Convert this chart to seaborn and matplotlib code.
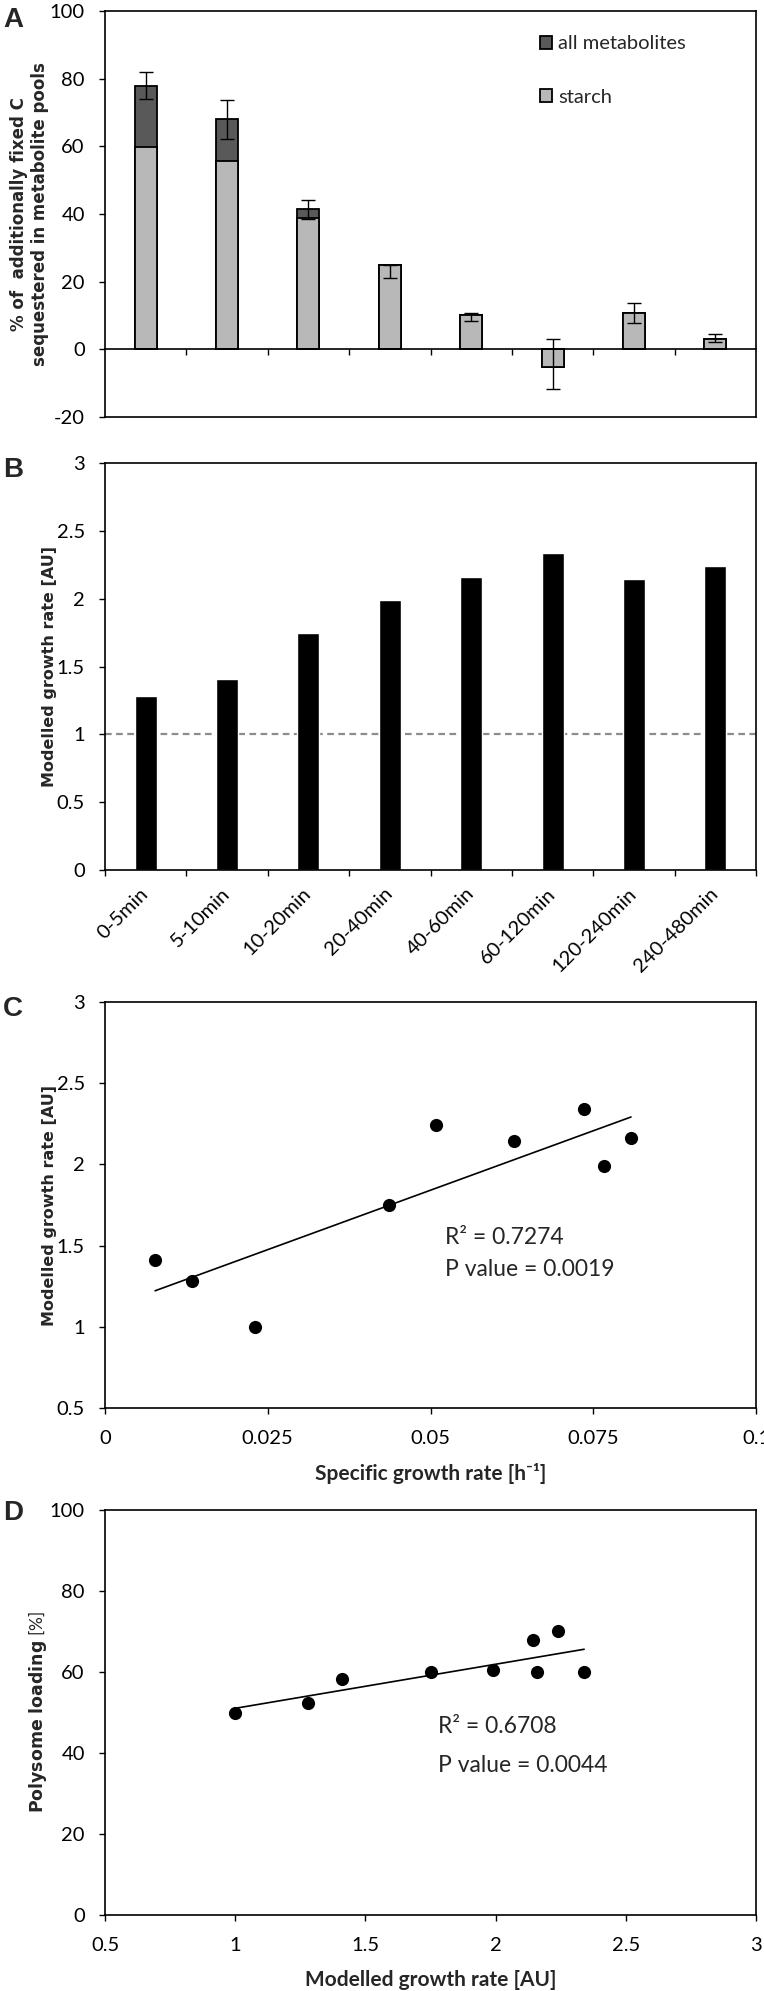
import matplotlib.pyplot as plt
import numpy as np
import seaborn as sns
from matplotlib.patches import Patch
from matplotlib.ticker import FuncFormatter, MultipleLocator

# ---- data ----
intervals = ["0-5min", "5-10min", "10-20min", "20-40min",
             "40-60min", "60-120min", "120-240min", "240-480min"]

# A: % of additionally fixed C sequestered in metabolite pools
all_metabolites = [77.9, 68.0, 41.4, 24.9, 10.1, -5.1, 10.6, 3.1]
starch = [59.9, 55.7, 38.9, 24.9, 10.1, -5.1, 10.6, 3.1]
err_low = [4.0, 5.9, 2.9, 3.9, 1.7, 6.7, 2.7, 1.0]
err_high = [4.2, 5.7, 2.6, 0.0, 0.7, 8.1, 3.0, 1.3]

# B-D: per interval
modelled_growth = [1.28, 1.41, 1.75, 1.99, 2.16, 2.34, 2.145, 2.24]
specific_growth = [0.0134, 0.0077, 0.0437, 0.0766, 0.0808, 0.0736, 0.0629, 0.0509]
polysome = [52.3, 58.2, 60.0, 60.5, 60.0, 60.0, 67.8, 70.1]

# control point
control_growth = 1.0
control_specific = 0.023
control_polysome = 50.0

stats_c = ("0.7274", "0.0019")
stats_d = ("0.6708", "0.0044")

dark_grey = "#595959"
light_grey = "#b8b8b8"

# ---- style ----
sns.set_theme(style="ticks", rc={
    "axes.edgecolor": "black",
    "axes.linewidth": 1.2,
    "xtick.color": "black",
    "ytick.color": "black",
    "xtick.major.width": 1.0,
    "ytick.major.width": 1.0,
    "xtick.major.size": 4.5,
    "ytick.major.size": 4.5,
    "xtick.labelsize": 14.5,
    "ytick.labelsize": 14.5,
    "xtick.major.pad": 11,
    "ytick.major.pad": 10,
})
plt.rcParams["font.family"] = ["Lato", "DejaVu Sans"]
plt.rcParams["mathtext.fontset"] = "dejavusans"

W, H = 764, 1991
fig = plt.figure(figsize=(W / 100, H / 100), dpi=100)


def box(top, bottom):
    return [105 / W, 1 - bottom / H, 651 / W, (bottom - top) / H]


axA = fig.add_axes(box(11, 417))
axB = fig.add_axes(box(463, 870))
axC = fig.add_axes(box(1002, 1408))
axD = fig.add_axes(box(1510, 1915))

fmt = FuncFormatter(lambda v, p: "%g" % v)
ylab_kw = dict(fontfamily="DejaVu Sans", fontweight="bold", fontsize=11.5)
pos = np.arange(len(intervals))

# ---- A ----
sns.barplot(x=intervals, y=all_metabolites, color=dark_grey, width=0.27,
            edgecolor="black", linewidth=1.3, saturation=1, errorbar=None, ax=axA)
sns.barplot(x=intervals, y=starch, color=light_grey, width=0.27,
            edgecolor="black", linewidth=1.3, saturation=1, errorbar=None, ax=axA)
axA.errorbar(pos, all_metabolites, yerr=[err_low, err_high], fmt="none",
             ecolor="black", elinewidth=1, capsize=5, capthick=1, zorder=5)
axA.set_xlim(-0.5, len(intervals) - 0.5)
axA.set_ylim(-20, 100)
axA.yaxis.set_major_locator(MultipleLocator(20))
axA.yaxis.set_major_formatter(fmt)
axA.spines["bottom"].set_position(("data", 0))
axA.set_xticks(pos[1:] - 0.5)
axA.set_xticklabels([])
axA.plot([0, 1], [0, 0], transform=axA.transAxes, color="black", lw=1.2, clip_on=False)
axA.set_ylabel("% of  additionally fixed C\nsequestered in metabolite pools",
               linespacing=1.25, **dict(ylab_kw, fontsize=12))
axA.yaxis.set_label_coords(-0.086, 0.5)
handles = [Patch(facecolor=dark_grey, edgecolor="black", lw=1.3, label="all metabolites"),
           Patch(facecolor=light_grey, edgecolor="black", lw=1.3, label="starch")]
axA.legend(handles=handles, loc="upper left", bbox_to_anchor=(0.668, 0.94),
           frameon=False, fontsize=14.5, handlelength=0.6, handleheight=0.6,
           handletextpad=0.3, labelspacing=1.8, borderpad=0, borderaxespad=0)

# ---- B ----
sns.barplot(x=intervals, y=modelled_growth, color="black", width=0.27,
            saturation=1, errorbar=None, ax=axB)
axB.axhline(control_growth, color="#8c8c8c", ls=(0, (3, 2)), lw=1.6, zorder=0.5)
axB.set_xlim(-0.5, len(intervals) - 0.5)
axB.set_ylim(0, 3)
axB.yaxis.set_major_locator(MultipleLocator(0.5))
axB.yaxis.set_major_formatter(fmt)
axB.set_xticks(np.arange(len(intervals) + 1) - 0.5)
axB.set_xticklabels([])
axB.set_xticks(pos, minor=True)
axB.set_xticklabels(intervals, minor=True, rotation=45, ha="right", va="center",
                    rotation_mode="anchor", fontsize=14.5)
axB.tick_params(axis="x", which="minor", length=0, pad=15)
axB.set_xlabel("")
axB.set_ylabel("Modelled growth rate [AU]", **ylab_kw)
axB.yaxis.set_label_coords(-0.074, 0.5)

# ---- C ----
sns.regplot(x=[control_specific] + specific_growth, y=[control_growth] + modelled_growth,
            ci=None, color="black", ax=axC,
            scatter_kws={"s": 90, "alpha": 1, "linewidths": 0},
            line_kws={"lw": 1.2})
axC.set_xlim(0, 0.1)
axC.set_ylim(0.5, 3)
axC.xaxis.set_major_locator(MultipleLocator(0.025))
axC.yaxis.set_major_locator(MultipleLocator(0.5))
axC.xaxis.set_major_formatter(fmt)
axC.yaxis.set_major_formatter(fmt)
axC.set_xlabel("Specific growth rate [h\u207b\u00b9]", fontweight="bold", fontsize=15, labelpad=12)
axC.set_ylabel("Modelled growth rate [AU]", **ylab_kw)
axC.yaxis.set_label_coords(-0.074, 0.5)
axC.text(0.523, 0.42, "R\u00b2 = " + stats_c[0], transform=axC.transAxes,
         fontsize=16.5, va="center", ha="left")
axC.text(0.523, 0.342, "P value = " + stats_c[1], transform=axC.transAxes,
         fontsize=16.5, va="center", ha="left")

# ---- D ----
sns.regplot(x=[control_growth] + modelled_growth, y=[control_polysome] + polysome,
            ci=None, color="black", ax=axD,
            scatter_kws={"s": 90, "alpha": 1, "linewidths": 0},
            line_kws={"lw": 1.2})
axD.set_xlim(0.5, 3)
axD.set_ylim(0, 100)
axD.xaxis.set_major_locator(MultipleLocator(0.5))
axD.yaxis.set_major_locator(MultipleLocator(20))
axD.xaxis.set_major_formatter(fmt)
axD.yaxis.set_major_formatter(fmt)
axD.set_xlabel("Modelled growth rate [AU]", fontweight="bold", fontsize=15, labelpad=12)
axD.set_ylabel(r"$\mathbf{Polysome\ loading}$ [%]", fontsize=12.5)
axD.yaxis.set_label_coords(-0.086, 0.5)
axD.text(0.512, 0.465, "R\u00b2 = " + stats_d[0], transform=axD.transAxes,
         fontsize=16.5, va="center", ha="left")
axD.text(0.512, 0.368, "P value = " + stats_d[1], transform=axD.transAxes,
         fontsize=16.5, va="center", ha="left")

for ax in (axA, axB, axC, axD):
    for s in ax.spines.values():
        s.set_visible(True)
        s.set_color("black")

# panel letters
for letter, yc in zip("ABCD", [20, 470, 1009, 1513]):
    fig.text(3 / W, 1 - yc / H, letter, fontsize=20, fontweight="bold",
             family="Liberation Sans", va="center", ha="left")

fig.savefig("out.png", dpi=100)
